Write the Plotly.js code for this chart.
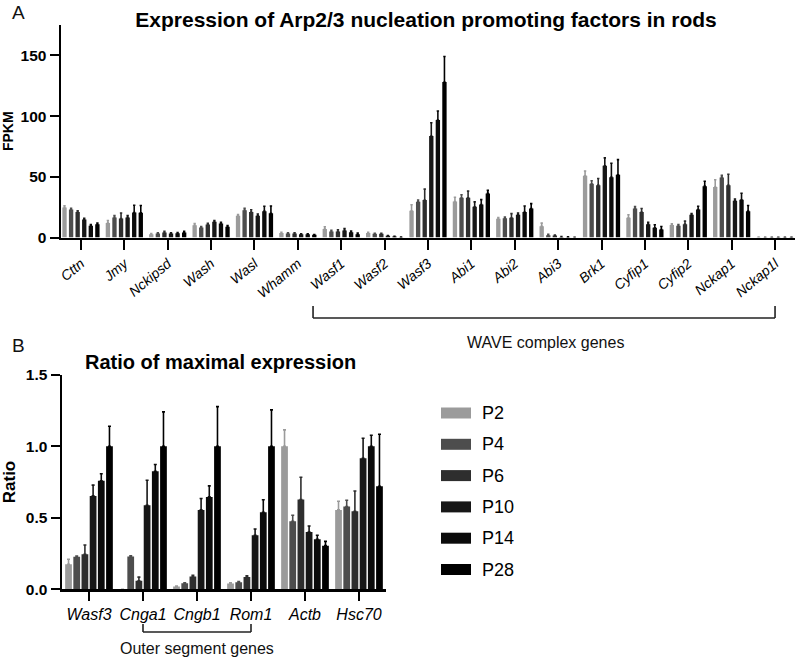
<!DOCTYPE html>
<html>
<head>
<meta charset="utf-8">
<script src="https://cdn.plot.ly/plotly-3.0.1.min.js"></script>
<style>html,body{margin:0;padding:0;background:#fff;}#chart{width:799px;height:660px;}</style>
</head>
<body>
<div id="chart"></div>
<script>
// ---------- DATA ----------
const stages = ['P2', 'P4', 'P6', 'P10', 'P14', 'P28'];
const stageColors = ['#9b9b9b', '#4d4d4d', '#2e2e2e', '#171717', '#0b0b0b', '#000000'];

// Panel A: FPKM
const genesA = ['Cttn','Jmy','Nckipsd','Wash','Wasl','Whamm','Wasf1','Wasf2','Wasf3','Abi1','Abi2','Abi3','Brk1','Cyfip1','Cyfip2','Nckap1','Nckap1l'];
const fpkmP2  = [24.7, 12.0, 2.7, 10.0, 17.9, 3.8, 6.9, 3.8, 22.0, 29.7, 15.4, 9.3, 50.8, 16.2, 10.2, 41.5, 0.3];
const fpkmP4  = [23.0, 16.5, 3.3,  8.2, 22.5, 3.3, 4.9, 3.0, 29.4, 32.7, 15.9, 1.9, 44.2, 23.9,  9.6, 49.5, 0.2];
const fpkmP6  = [21.0, 15.7, 4.1, 10.7, 20.9, 3.3, 4.9, 3.0, 30.8, 32.7, 16.2, 1.6, 43.1, 20.9, 11.0, 43.1, 0.2];
const fpkmP10 = [14.8, 16.5, 3.3, 12.9, 17.9, 2.7, 5.8, 1.4, 83.5, 25.3, 18.7, 0.5, 59.0, 11.0, 18.7, 30.2, 0.2];
const fpkmP14 = [ 9.6, 20.6, 3.6, 11.5, 21.7, 2.7, 4.4, 0.8, 96.7, 27.2, 20.9, 0.3, 49.7,  8.0, 23.0, 31.0, 0.2];
const fpkmP28 = [11.0, 20.3, 4.1,  8.8, 20.0, 2.2, 2.7, 0.3, 128.0, 36.3, 23.9, 0.1, 51.6, 6.6, 42.3, 21.7, 0.2];
const errP2   = [1.5, 2.0, 0.5, 1.5, 1.0, 0.5, 2.0, 0.5, 5.0, 3.5, 1.0, 2.5, 4.0, 2.5, 1.0, 6.0, 0];
const errP4   = [1.0, 1.5, 0.5, 0.8, 1.5, 0.5, 1.0, 0.5, 1.5, 2.5, 1.0, 0.8, 2.5, 1.5, 1.0, 1.7, 0];
const errP6   = [1.0, 4.5, 1.0, 1.0, 2.0, 0.5, 1.5, 0.5, 9.0, 5.5, 3.5, 0.5, 5.5, 3.0, 2.5, 9.0, 0];
const errP10  = [1.0, 1.5, 0.5, 1.0, 1.5, 0.3, 1.5, 0.3, 11.0, 4.0, 1.5, 0.3, 6.6, 1.5, 1.0, 1.5, 0];
const errP14  = [1.0, 6.0, 0.5, 1.0, 4.0, 0.3, 1.0, 0.2, 7.5, 4.0, 5.0, 0.2, 11.5, 2.5, 2.7, 5.5, 0];
const errP28  = [1.0, 6.0, 1.0, 1.0, 6.0, 0.3, 1.0, 0.1, 21.0, 2.5, 4.0, 0.0, 12.5, 2.5, 4.0, 4.7, 0];
const yTicksA = [0, 50, 100, 150];

// Panel B: ratio of maximal expression
const genesB = ['Wasf3','Cnga1','Cngb1','Rom1','Actb','Hsc70'];
const ratioP2  = [0.175, 0.0,   0.019, 0.040, 1.000, 0.555];
const ratioP4  = [0.228, 0.230, 0.042, 0.049, 0.476, 0.578];
const ratioP6  = [0.245, 0.060, 0.089, 0.086, 0.627, 0.545];
const ratioP10 = [0.653, 0.587, 0.555, 0.378, 0.400, 0.916];
const ratioP14 = [0.758, 0.825, 0.646, 0.538, 0.350, 1.000];
const ratioP28 = [1.000, 1.000, 1.000, 1.000, 0.305, 0.720];
const rErrP2   = [0.035, 0.0,   0.003, 0.005, 0.114, 0.060];
const rErrP4   = [0.005, 0.005, 0.004, 0.005, 0.042, 0.044];
const rErrP6   = [0.065, 0.025, 0.008, 0.008, 0.156, 0.142];
const rErrP10  = [0.075, 0.175, 0.080, 0.044, 0.042, 0.140];
const rErrP14  = [0.050, 0.047, 0.077, 0.088, 0.028, 0.077];
const rErrP28  = [0.140, 0.240, 0.277, 0.254, 0.030, 0.364];
const yTicksB = [0, 0.5, 1.0, 1.5];

const waveLabel = 'WAVE complex genes';
const outerLabel = 'Outer segment genes';

// ---------- BUILD ----------
const W = 799, H = 660;
const px = x => x / W;
const py = y => 1 - y / H;
const FONT = 'Liberation Sans, Arial, sans-serif';

const seriesA = [fpkmP2, fpkmP4, fpkmP6, fpkmP10, fpkmP14, fpkmP28];
const errsA = [errP2, errP4, errP6, errP10, errP14, errP28];
const seriesB = [ratioP2, ratioP4, ratioP6, ratioP10, ratioP14, ratioP28];
const errsB = [rErrP2, rErrP4, rErrP6, rErrP10, rErrP14, rErrP28];

const traces = [];
stages.forEach((s, i) => {
  traces.push({
    type: 'bar', name: s, x: genesA, y: seriesA[i], xaxis: 'x', yaxis: 'y',
    width: 0.1, marker: {color: stageColors[i], line: {width: 0}},
    error_y: {type: 'data', symmetric: false, array: errsA[i], arrayminus: errsA[i].map(() => 0),
              color: stageColors[i], thickness: 1.6, width: 1.2},
    showlegend: false, hoverinfo: 'skip'
  });
});
stages.forEach((s, i) => {
  traces.push({
    type: 'bar', name: s, x: genesB, y: seriesB[i], xaxis: 'x2', yaxis: 'y2',
    width: 0.125, marker: {color: stageColors[i], line: {width: 0}},
    error_y: {type: 'data', symmetric: false, array: errsB[i], arrayminus: errsB[i].map(() => 0),
              color: stageColors[i], thickness: 1.6, width: 1.5},
    showlegend: false, hoverinfo: 'skip'
  });
});

const axisCommon = {
  showline: true, linecolor: '#000', linewidth: 2.5, mirror: false,
  ticks: 'outside', tickcolor: '#000', tickwidth: 2,
  showgrid: false, zeroline: false, fixedrange: true
};

const shapes = [];
const annotations = [];

// WAVE bracket (panel A)
shapes.push({type: 'line', xref: 'x', yref: 'paper', x0: 5.35, x1: 16, y0: py(318), y1: py(318), line: {color: '#222', width: 1.6}});
shapes.push({type: 'line', xref: 'x', yref: 'paper', x0: 5.35, x1: 5.35, y0: py(318), y1: py(306), line: {color: '#222', width: 1.6}});
shapes.push({type: 'line', xref: 'x', yref: 'paper', x0: 16, x1: 16, y0: py(318), y1: py(306), line: {color: '#222', width: 1.6}});
annotations.push({text: waveLabel, xref: 'x', yref: 'paper', x: 10.7, y: py(342), showarrow: false,
  xanchor: 'center', yanchor: 'middle', font: {family: FONT, size: 16, color: '#111'}});

// Outer segment bracket (panel B)
shapes.push({type: 'line', xref: 'x2', yref: 'paper', x0: 1, x1: 3, y0: py(632), y1: py(632), line: {color: '#222', width: 1.6}});
shapes.push({type: 'line', xref: 'x2', yref: 'paper', x0: 1, x1: 1, y0: py(632), y1: py(624), line: {color: '#222', width: 1.6}});
shapes.push({type: 'line', xref: 'x2', yref: 'paper', x0: 3, x1: 3, y0: py(632), y1: py(624), line: {color: '#222', width: 1.6}});
annotations.push({text: outerLabel, xref: 'x2', yref: 'paper', x: 2, y: py(648), showarrow: false,
  xanchor: 'center', yanchor: 'middle', font: {family: FONT, size: 16, color: '#111'}});

// Panel letters and panel B title
annotations.push({text: 'A', xref: 'paper', yref: 'paper', x: px(18), y: py(13), showarrow: false,
  xanchor: 'center', yanchor: 'middle', font: {family: FONT, size: 19, color: '#111'}});
annotations.push({text: 'B', xref: 'paper', yref: 'paper', x: px(18), y: py(345), showarrow: false,
  xanchor: 'center', yanchor: 'middle', font: {family: FONT, size: 19, color: '#111'}});
annotations.push({text: '<b>Ratio of maximal expression</b>', xref: 'paper', yref: 'paper', x: px(220), y: py(362), showarrow: false,
  xanchor: 'center', yanchor: 'middle', font: {family: FONT, size: 20, color: '#000'}});

// Legend (custom swatches)
stages.forEach((s, i) => {
  const yc = 413 + 31.3 * i;
  shapes.push({type: 'rect', xref: 'paper', yref: 'paper', x0: px(441), x1: px(471), y0: py(yc - 5.5), y1: py(yc + 5.5),
    fillcolor: stageColors[i], line: {width: 0}});
  annotations.push({text: s, xref: 'paper', yref: 'paper', x: px(480), y: py(yc), showarrow: false,
    xanchor: 'left', yanchor: 'middle', font: {family: FONT, size: 18, color: '#000'}});
});

const layout = {
  width: W, height: H, autosize: false,
  margin: {l: 0, r: 0, t: 0, b: 0},
  paper_bgcolor: '#fff', plot_bgcolor: '#fff',
  barmode: 'group', bargap: 0.09, bargroupgap: 0,
  showlegend: false,
  font: {family: FONT, color: '#000'},
  title: {text: '<b>Expression of Arp2/3 nucleation promoting factors in rods</b>',
    x: px(426), y: py(20), xref: 'paper', yref: 'paper', xanchor: 'center', yanchor: 'middle',
    font: {family: FONT, size: 21, color: '#000'}},
  xaxis: Object.assign({}, axisCommon, {
    domain: [px(61), px(795)], anchor: 'y', type: 'category', categoryorder: 'array', categoryarray: genesA,
    range: [-0.46, 16.46], ticklen: 10, tickangle: -40,
    tickfont: {family: FONT, size: 14, style: 'italic', color: '#000'}
  }),
  yaxis: Object.assign({}, axisCommon, {
    domain: [py(237.5), py(25)], anchor: 'x', range: [0, 175], tickvals: yTicksA, ticklen: 9,
    tickfont: {family: FONT, size: 15.5, weight: 'bold', color: '#000'},
    title: {text: 'FPKM', standoff: 10, font: {family: FONT, size: 14, weight: 'bold', color: '#000'}}
  }),
  xaxis2: Object.assign({}, axisCommon, {
    domain: [px(62), px(386)], anchor: 'y2', type: 'category', categoryorder: 'array', categoryarray: genesB,
    range: [-0.5, 5.5], ticklen: 9, tickangle: 0,
    tickfont: {family: FONT, size: 16, style: 'italic', color: '#000'}
  }),
  yaxis2: Object.assign({}, axisCommon, {
    domain: [py(589.3), py(374.7)], anchor: 'x2', range: [0, 1.5], tickvals: yTicksB, tickformat: '.1f', ticklen: 9,
    tickfont: {family: FONT, size: 15.5, weight: 'bold', color: '#000'},
    title: {text: 'Ratio', standoff: 10, font: {family: FONT, size: 17, weight: 'bold', color: '#000'}}
  }),
  shapes: shapes,
  annotations: annotations
};

Plotly.newPlot('chart', traces, layout, {staticPlot: true, displayModeBar: false});
</script>
</body>
</html>
